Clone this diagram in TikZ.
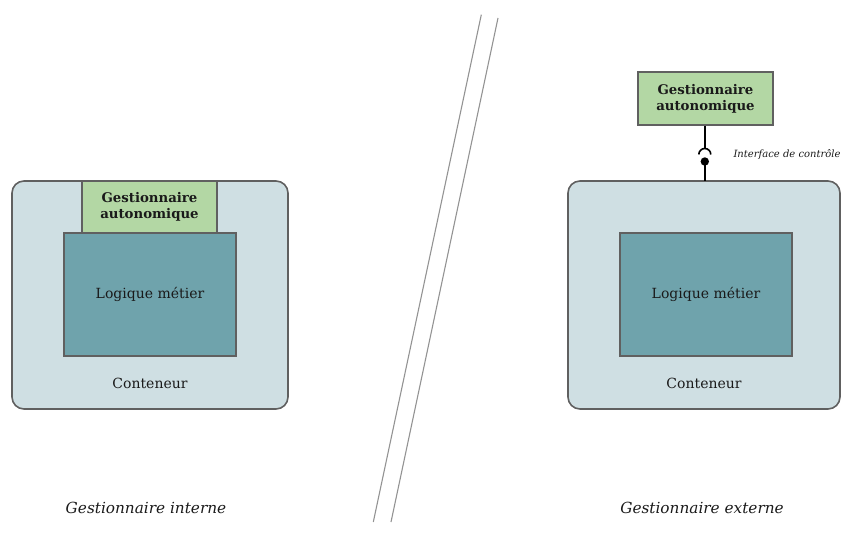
\documentclass[tikz,border=0pt]{standalone}
\usepackage{fontspec}
\setmainfont{DejaVu Serif}
\definecolor{contfill}{HTML}{CFDFE3}
\definecolor{edge}{HTML}{606060}
\definecolor{mgrfill}{HTML}{B3D7A4}
\definecolor{logicfill}{HTML}{6FA3AC}
\definecolor{txt}{HTML}{1A1A1A}
\tikzset{
  conteneur/.style={draw=edge, line width=1.6pt, fill=contfill, rounded corners=12pt},
  mgrbox/.style={draw=edge, line width=1.4pt, fill=mgrfill},
  logicbox/.style={draw=edge, line width=1.4pt, fill=logicfill},
  lbl/.style={font=\fontsize{14}{16}\selectfont, text=txt},
  mgrlbl/.style={font=\bfseries\fontsize{13.3}{16}\selectfont, text=txt, align=center},
  caption/.style={font=\itshape\fontsize{15.3}{18}\selectfont, text=txt},
  sep/.style={draw=gray!85, line width=1.1pt}
}
\begin{document}
\begin{tikzpicture}[x=1pt,y=-1pt]
\useasboundingbox (0,0) rectangle (843,534);
% ---------- left (internal) ----------
\path[conteneur] (12,181) rectangle (288,409);
\node[lbl] (contL) at (150,383) {Conteneur};
\path[mgrbox] (82,181) rectangle (217,233);
\node[mgrlbl] (mgrL) at (149.5,207) {Gestionnaire\\autonomique};
\path[logicbox] (64,233) rectangle (236,356);
\node[lbl] (logL) at (150,294) {Logique métier};
\node[caption] (capL) at (146,508) {Gestionnaire interne};
% ---------- separator ----------
\coordinate (s1a) at (481.3,14.7);
\coordinate (s1b) at (373.3,522);
\coordinate (s2a) at (498,18);
\coordinate (s2b) at (391,522);
\draw[sep] (s1a) -- (s1b);
\draw[sep] (s2a) -- (s2b);
% ---------- right (external) ----------
\path[conteneur] (568,181) rectangle (840,409);
\node[lbl] (contR) at (704,383) {Conteneur};
\path[logicbox] (620,233) rectangle (792,356);
\node[lbl] (logR) at (706,294) {Logique métier};
\node[mgrbox, minimum width=135pt, minimum height=53pt, inner sep=0pt] (mgrR) at (705.5,98.5) {};
\node[mgrlbl] at (mgrR.center) {Gestionnaire\\autonomique};
\coordinate (ctop) at (704.8,181);
\coordinate (socktop) at (704.8,148.5);
\coordinate (ballc) at (704.8,161.5);
\draw[black, line width=1.6pt] (mgrR.south -| socktop) -- (socktop);
\draw[black, line width=1.6pt] (698.8,154.5) arc[start angle=180, end angle=0, radius=6pt];
\fill[black] (ballc) circle[radius=4.2pt];
\draw[black, line width=1.6pt] (ballc) -- (ctop);
\node[font=\itshape\fontsize{10}{12}\selectfont, text=txt, anchor=west] (iface) at (730,155) {Interface de contrôle};
\node[caption] (capR) at (702,508) {Gestionnaire externe};
\end{tikzpicture}
\end{document}
